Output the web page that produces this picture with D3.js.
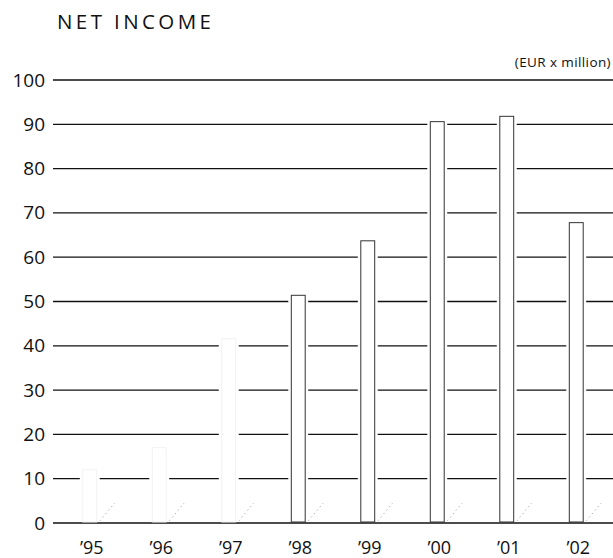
<!DOCTYPE html>
<html>
<head>
<meta charset="utf-8">
<script src="https://cdn.jsdelivr.net/npm/d3@7/dist/d3.min.js"></script>
<style>
  html, body { margin: 0; padding: 0; background: #fff; }
  svg { display: block; }
  text { font-family: "Open Sans", "Noto Sans", sans-serif; fill: #111; }
</style>
</head>
<body>
<div id="chart"></div>
<script>
// Net income per year, EUR million
const years = ["’95", "’96", "’97", "’98", "’99", "’00", "’01", "’02"];
const netIncome = [12, 17, 41.6, 51.4, 63.7, 90.6, 91.8, 67.8];
const yTicks = [0, 10, 20, 30, 40, 50, 60, 70, 80, 90, 100];
// early years printed very faintly
const faintYears = ["’95", "’96", "’97"];

const W = 613, H = 558;
const svg = d3.select("#chart").append("svg")
  .attr("width", W).attr("height", H);

const x = d3.scaleBand()
  .domain(years)
  .range([55, 611])
  .paddingInner(0.8)
  .paddingOuter(0.4);

const y = d3.scaleLinear()
  .domain([0, 100])
  .range([523, 80]);

// title
svg.append("text")
  .attr("x", 57).attr("y", 29)
  .attr("font-size", 20.5)
  .attr("letter-spacing", 3.4)
  .text("NET INCOME");

// unit note
svg.append("text")
  .attr("x", 611).attr("y", 67)
  .attr("text-anchor", "end")
  .attr("font-size", 13.5)
  .attr("letter-spacing", 0.4)
  .text("(EUR x million)");

// y axis: labels and gridlines
const yAxis = d3.axisLeft(y)
  .tickValues(yTicks)
  .tickSize(0)
  .tickPadding(8)
  .tickFormat(d3.format("d"));

const gy = svg.append("g")
  .attr("transform", "translate(53,0)")
  .call(yAxis);
gy.select(".domain").remove();
gy.selectAll("text")
  .attr("font-size", 19)
  .attr("font-family", "\"Open Sans\", sans-serif")
  .attr("fill", "#111");

svg.append("g")
  .selectAll("line")
  .data(yTicks)
  .join("line")
  .attr("x1", 53).attr("x2", W)
  .attr("y1", d => y(d)).attr("y2", d => y(d))
  .attr("stroke", "#111")
  .attr("stroke-width", d => d === 0 ? 1.6 : 1.3);

// shadow strokes to the right of each bar foot
svg.append("g")
  .selectAll("line")
  .data(years)
  .join("line")
  .attr("x1", d => x(d) + x.bandwidth() + 3)
  .attr("y1", y(0) - 2)
  .attr("x2", d => x(d) + x.bandwidth() + 18)
  .attr("y2", y(0) - 20)
  .attr("stroke", "#aaa")
  .attr("stroke-width", 0.9)
  .attr("stroke-dasharray", "1.5,3");

// bars: white gap around each, then outline
const bars = svg.append("g")
  .selectAll("g")
  .data(years.map((yr, i) => ({ yr, v: netIncome[i] })))
  .join("g");

bars.append("rect")
  .attr("x", d => x(d.yr) - 3)
  .attr("y", d => y(d.v) - 1)
  .attr("width", x.bandwidth() + 6)
  .attr("height", d => y(0) - y(d.v) - 0.5)
  .attr("fill", "#fff");

bars.append("rect")
  .attr("x", d => x(d.yr))
  .attr("y", d => y(d.v))
  .attr("width", x.bandwidth())
  .attr("height", d => y(0) - y(d.v) - 1)
  .attr("fill", "#fff")
  .attr("stroke", d => faintYears.includes(d.yr) ? "#f2f2f2" : "#333")
  .attr("stroke-width", 1);

// x axis labels
const xAxis = d3.axisBottom(x).tickSize(0).tickPadding(0);
const gx = svg.append("g")
  .attr("transform", `translate(2,${y(0) + 18})`)
  .call(xAxis);
gx.select(".domain").remove();
gx.selectAll("text")
  .attr("font-size", 18)
  .attr("font-family", "\"Open Sans\", sans-serif")
  .attr("fill", "#111");
</script>
</body>
</html>
